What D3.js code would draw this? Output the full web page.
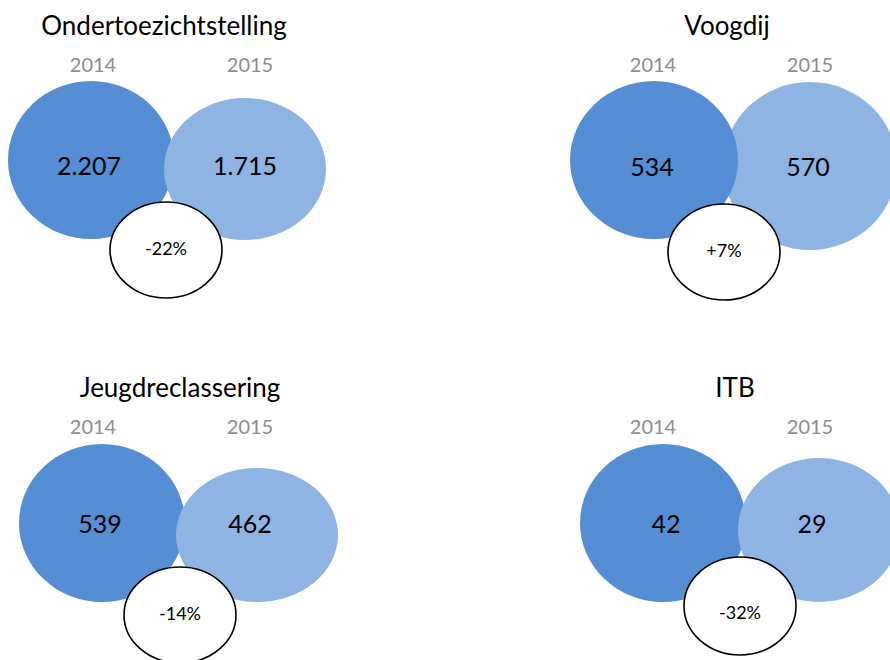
<!DOCTYPE html>
<html>
<head>
<meta charset="utf-8">
<script src="https://cdn.jsdelivr.net/npm/d3@7"></script>
<style>
  html, body { margin: 0; padding: 0; background: #fff; }
  svg text { font-family: Lato, "Open Sans", sans-serif; }
</style>
</head>
<body>
<svg id="chart" width="890" height="660"></svg>
<script>
// data
var categories = ["Ondertoezichtstelling", "Voogdij", "Jeugdreclassering", "ITB"];
var years = ["2014", "2015"];
var values2014 = ["2.207", "534", "539", "42"];
var values2015 = ["1.715", "570", "462", "29"];
var changes = ["-22%", "+7%", "-14%", "-32%"];

// layout per panel (relative to panel origin)
// valueDx: shift of the number from its year column
var LAYOUT = [
    {col: 0, row: 0, titleX: 164, valueY: 166, pctY: 249, darkTop: false, valueDx: [-4, -5],
     dark: [91, 160, 83, 79], light: [245, 169, 81, 71], white: [166, 250, 56, 48]},
    {col: 1, row: 0, titleX: 167, valueY: 167, pctY: 251, darkTop: true, valueDx: [-1, -2],
     dark: [94, 160, 84, 79], light: [250, 166, 87, 84], white: [164, 252, 56, 48]},
    {col: 0, row: 1, titleX: 180, valueY: 162, pctY: 252, darkTop: false, valueDx: [7, 0],
     dark: [102, 161, 83, 79], light: [257, 173, 81, 67], white: [180, 253, 56, 48]},
    {col: 1, row: 1, titleX: 175, valueY: 162, pctY: 251, darkTop: false, valueDx: [13, 2],
     dark: [103, 161, 83, 79], light: [259, 168, 81, 72], white: [180, 244, 56, 49]},
];

var DARK = "#558ed5";
var LIGHT = "#8eb4e3";

var svg = d3.select("#chart");

var colX = d3.scaleOrdinal().domain([0, 1]).range([0, 560]);
var rowY = d3.scaleOrdinal().domain([0, 1]).range([0, 362]);
var yearX = d3.scalePoint().domain(years).range([93, 250]);

function ell(g, e, fill, stroke){
    g.append("ellipse")
        .attr("cx", e[0]).attr("cy", e[1])
        .attr("rx", e[2]).attr("ry", e[3])
        .attr("fill", fill)
        .attr("stroke", stroke || "none")
        .attr("stroke-width", stroke ? 1.6 : 0);
}

var panels = svg.selectAll("g.panel")
    .data(categories)
    .enter()
    .append("g")
    .attr("class", "panel")
    .attr("transform", function(d, i){
        return "translate(" + colX(LAYOUT[i].col) + "," + rowY(LAYOUT[i].row) + ")";
    });

panels.each(function(d, i){
    var g = d3.select(this);
    var L = LAYOUT[i];

    g.append("text")
        .attr("x", L.titleX).attr("y", 35)
        .attr("text-anchor", "middle")
        .attr("font-size", 26)
        .attr("fill", "#000")
        .text(d);

    years.forEach(function(y){
        g.append("text")
            .attr("x", yearX(y)).attr("y", 72)
            .attr("text-anchor", "middle")
            .attr("font-size", 20)
            .attr("fill", "#8c8c8c")
            .text(y);
    });

    if (L.darkTop){
        ell(g, L.light, LIGHT);
        ell(g, L.dark, DARK);
    } else {
        ell(g, L.dark, DARK);
        ell(g, L.light, LIGHT);
    }

    var vals = [values2014[i], values2015[i]];
    vals.forEach(function(v, k){
        g.append("text")
            .attr("x", yearX(years[k]) + L.valueDx[k])
            .attr("y", L.valueY)
            .attr("dy", "0.36em")
            .attr("text-anchor", "middle")
            .attr("font-size", 25)
            .attr("fill", "#000")
            .text(v);
    });

    ell(g, L.white, "#fff", "#000");
    g.append("text")
        .attr("x", L.white[0])
        .attr("y", L.pctY)
        .attr("dy", "0.36em")
        .attr("text-anchor", "middle")
        .attr("font-size", 18)
        .attr("fill", "#000")
        .text(changes[i]);
});
</script>
</body>
</html>
